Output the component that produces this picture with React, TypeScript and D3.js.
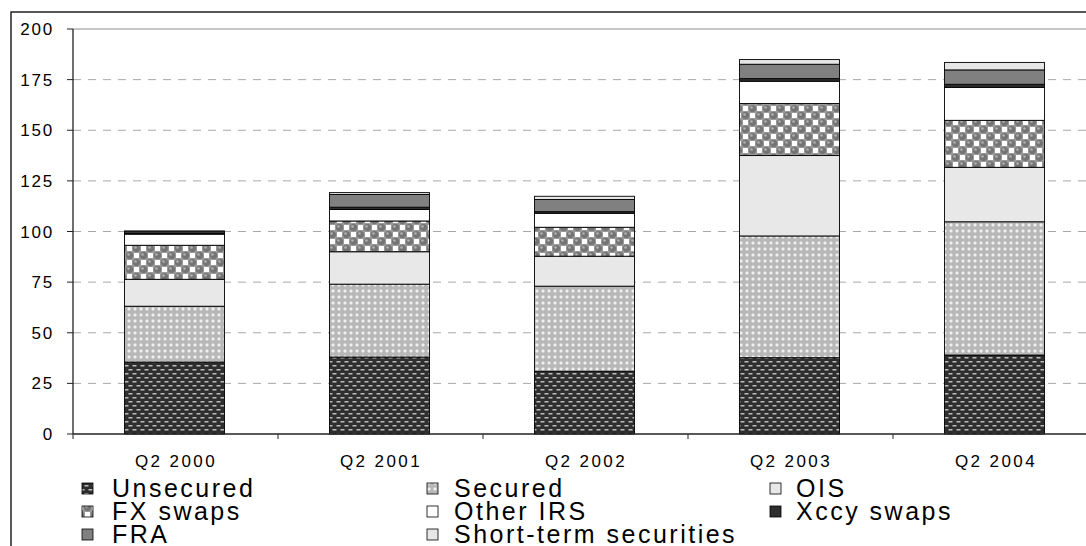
import React from "react";
import * as d3 from "d3";

const categories = ["Q2 2000", "Q2 2001", "Q2 2002", "Q2 2003", "Q2 2004"];
const unsecured = [35.5, 38, 31, 37.7, 39];
const secured = [27.6, 36, 42, 60.1, 65.8];
const ois = [13.3, 16, 14.8, 39.7, 26.9];
const fxSwaps = [16.8, 15.2, 14.3, 25.7, 23.2];
const otherIRS = [5.5, 5.7, 6.9, 11, 16.3];
const xccySwaps = [0.3, 1.1, 0.8, 1.3, 1.5];
const fra = [0.8, 6.3, 6, 7.1, 7.1];
const shortTerm = [0.5, 0.9, 1.6, 2.3, 3.7];
const yTicks = [0, 25, 50, 75, 100, 125, 150, 175, 200];

const seriesNames = ["Unsecured", "Secured", "OIS", "FX swaps", "Other IRS", "Xccy swaps", "FRA", "Short-term securities"];
const seriesValues = [unsecured, secured, ois, fxSwaps, otherIRS, xccySwaps, fra, shortTerm];
const fills = ["url(#pUnsec)", "url(#pSec)", "#e8e8e8", "url(#pFx)", "#ffffff", "#2e2e2e", "#808080", "#e6e6e6"];

const FONT = "'Liberation Sans', Arial, sans-serif";

export default function App() {
  const W = 1086, H = 546;
  const x0 = 73, x1 = 1098, yTop = 29, yBot = 434;
  const x = d3.scaleBand<string>().domain(categories).range([72, 1097]).paddingInner(0.512).paddingOuter(0.256);
  const y = d3.scaleLinear().domain([0, 200]).range([yBot, yTop]);

  const rows = categories.map((c, i) => {
    const r: any = { cat: c };
    seriesNames.forEach((s, j) => (r[s] = seriesValues[j][i]));
    return r;
  });
  const stacked = d3.stack<any>().keys(seriesNames)(rows);
  const step = x.step();

  const legendCols = [[82, 112], [427, 454], [770, 796]];
  const legendRows = [497, 520, 543];

  return (
    <svg width={W} height={H} style={{ position: "absolute", left: 0, top: 0, background: "#fff" }} fontFamily={FONT}>
      <defs>
        <pattern id="pUnsec" width={8} height={8} patternUnits="userSpaceOnUse">
          <rect width={8} height={8} fill="#2e2e2e" />
          <rect x={0.5} y={1} width={4} height={1.5} fill="#bdbdbd" />
          <rect x={4.5} y={5} width={4} height={1.5} fill="#bdbdbd" />
          <rect x={-3.5} y={5} width={4} height={1.5} fill="#bdbdbd" />
        </pattern>
        <pattern id="pSec" width={6} height={6} patternUnits="userSpaceOnUse">
          <rect width={6} height={6} fill="#b8b8b8" />
          <path d="M3 1 L5 3 L3 5 L1 3 Z" fill="#ececec" />
          <rect x={2.5} y={2.5} width={1} height={1} fill="#ffffff" />
        </pattern>
        <pattern id="pFx" width={14} height={14} patternUnits="userSpaceOnUse">
          <rect width={14} height={14} fill="#9a9a9a" />
          <rect x={8} y={1} width={5} height={5} fill="#ffffff" />
          <rect x={1} y={8} width={5} height={5} fill="#ffffff" />
          <circle cx={3.5} cy={3.5} r={3.6} fill="#747474" />
          <circle cx={10.5} cy={10.5} r={3.6} fill="#747474" />
          <circle cx={2.5} cy={2.5} r={1.3} fill="#b0b0b0" />
          <circle cx={9.5} cy={9.5} r={1.3} fill="#b0b0b0" />
        </pattern>
      </defs>

      <rect x={11} y={12} width={1200} height={800} fill="none" stroke="#000" strokeWidth={1.3} />

      {/* gridlines */}
      {yTicks.filter((t) => t > 0 && t < 200).map((t) => (
        <line key={t} x1={x0} x2={x1} y1={y(t)} y2={y(t)} stroke="#a8a8a8" strokeWidth={1} strokeDasharray="8,7" />
      ))}
      <line x1={x0} x2={x1} y1={y(200)} y2={y(200)} stroke="#8c8c8c" strokeWidth={1} />

      {/* bars */}
      {stacked.map((s, j) => (
        <g key={s.key}>
          {s.map((d, i) => (
            <rect
              key={i}
              x={x(categories[i])}
              width={x.bandwidth()}
              y={y(d[1])}
              height={Math.max(0, y(d[0]) - y(d[1]))}
              fill={fills[j]}
              stroke="#000"
              strokeWidth={0.9}
            />
          ))}
        </g>
      ))}

      {/* y axis */}
      <line x1={x0} x2={x0} y1={yTop} y2={yBot} stroke="#222" strokeWidth={1.3} />
      {yTicks.map((t) => (
        <g key={t}>
          <line x1={x0 - 6} x2={x0} y1={y(t)} y2={y(t)} stroke="#222" strokeWidth={1} />
          <text x={54} y={y(t)} dy="0.36em" textAnchor="end" fontSize={17} letterSpacing={1.8} fill="#000">
            {t}
          </text>
        </g>
      ))}

      {/* x axis */}
      <line x1={x0} x2={W} y1={yBot} y2={yBot} stroke="#222" strokeWidth={1.3} />
      {d3.range(categories.length + 1).map((k) => (
        <line key={k} x1={x0 + k * step} x2={x0 + k * step} y1={yBot} y2={yBot + 5} stroke="#222" strokeWidth={1} />
      ))}
      {categories.map((c) => (
        <text key={c} x={(x(c) as number) + x.bandwidth() / 2 + 1.5} y={467} textAnchor="middle" fontSize={17} letterSpacing={2.4} fill="#000">
          {c}
        </text>
      ))}

      {/* legend */}
      {seriesNames.map((s, j) => {
        const col = j % 3, row = Math.floor(j / 3);
        const [sx, tx] = legendCols[col];
        const by = legendRows[row];
        return (
          <g key={s}>
            <rect x={sx} y={by - 14} width={11} height={11} fill={fills[j]} stroke="#000" strokeWidth={0.8} />
            <text x={tx} y={by} fontSize={25} letterSpacing={2.5} fill="#000">
              {s}
            </text>
          </g>
        );
      })}
    </svg>
  );
}
